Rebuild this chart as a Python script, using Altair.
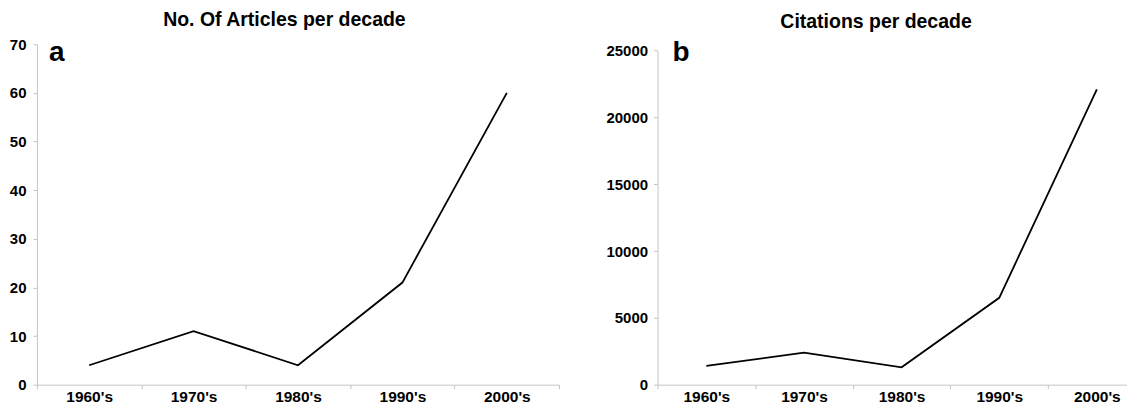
import altair as alt
import pandas as pd

decades = ["1960's", "1970's", "1980's", "1990's", "2000's"]
articles = [4, 11, 4, 21, 60]
citations = [1400, 2400, 1300, 6500, 22100]

df = pd.DataFrame({"decade": decades, "articles": articles, "citations": citations})

FONT = "Liberation Sans"
GRAY = "#c4c4c4"
H = 341

xenc = alt.X(
    "decade:N",
    sort=decades,
    scale=alt.Scale(type="band", paddingInner=0, paddingOuter=0),
    axis=alt.Axis(title=None, labelAngle=0, tickBand="extent", labelPadding=1,
                  labelFontSize=15.5, tickSize=4, domainColor=GRAY, tickColor=GRAY),
)


def panel(field, dom, vals, yrange, letter, title, w, lp, lx, ly):
    line = alt.Chart(df).mark_line(color="black", strokeWidth=1.8).encode(
        x=xenc,
        y=alt.Y(f"{field}:Q", scale=alt.Scale(domain=dom, nice=False, range=yrange),
                axis=alt.Axis(title=None, values=vals, grid=False, labelPadding=lp,
                              labelFontSize=15, format="d", tickSize=4,
                              domainColor=GRAY, tickColor=GRAY)),
    )
    lab = alt.Chart(pd.DataFrame({"t": [letter]})).mark_text(
        font=FONT, fontSize=28, fontWeight="bold", align="left", baseline="alphabetic",
        color="black",
    ).encode(text="t:N", x=alt.value(lx), y=alt.value(ly))
    return alt.layer(line, lab).properties(
        width=w, height=H,
        title=alt.TitleParams(title, font=FONT, fontSize=19.5, fontWeight="bold",
                              anchor="middle", frame="bounds", color="black", offset=6.5),
    )


left = panel("articles", [0, 70], list(range(0, 71, 10)), [H, 0], "a",
             "No. Of Articles per decade", 523, 7, 12, 17)
right = panel("citations", [0, 25000], list(range(0, 25001, 5000)), [H, 6.4], "b",
              "Citations per decade", 489, 6, 15, 16.3)

chart = alt.hconcat(left, right, spacing=45.7).properties(
    padding={"left": 1, "top": 2, "right": -20, "bottom": 0},
    background="white",
).configure_view(stroke=None).configure_axis(
    labelFont=FONT, labelFontWeight="bold", labelColor="black",
)

chart.save("out.html", embed_options={"renderer": "svg", "actions": False})
